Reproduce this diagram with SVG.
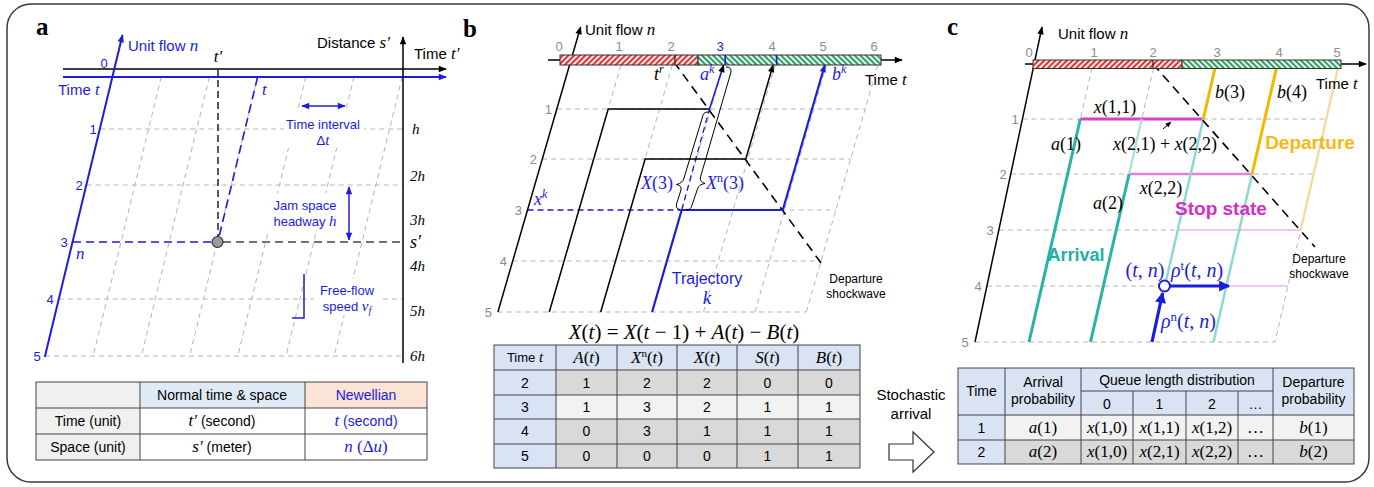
<svg xmlns="http://www.w3.org/2000/svg" width="1374" height="487" viewBox="0 0 1374 487">
<style>
.sans{font-family:"Liberation Sans",Arial,sans-serif}
.ser{font-family:"Liberation Serif","Times New Roman",serif}
.it{font-style:italic}
.bl{fill:#1c1cdc}
.gt{fill:#8c8c8c}
.grid{stroke:#b4b4b4;stroke-width:1;stroke-dasharray:5 4;fill:none}
.lbl{font-family:"Liberation Serif",serif;font-weight:bold;font-size:25px}
.tb{stroke:#444;stroke-width:1;fill:none}
.tr{stroke:#000;stroke-width:1.5;fill:none}
.trb{stroke:#1c1cdc;stroke-width:2.2;fill:none}
</style>
<defs>
<marker id="ak" viewBox="0 0 10 10" refX="9" refY="5" markerWidth="9" markerHeight="8" markerUnits="userSpaceOnUse" orient="auto-start-reverse"><path d="M0,1 L10,5 L0,9 z" fill="#000"/></marker>
<marker id="akb" viewBox="0 0 10 10" refX="9" refY="5" markerWidth="9" markerHeight="8" markerUnits="userSpaceOnUse" orient="auto-start-reverse"><path d="M0,1 L10,5 L0,9 z" fill="#1c1cdc"/></marker>
<marker id="akB" viewBox="0 0 10 10" refX="9" refY="5" markerWidth="13" markerHeight="11" markerUnits="userSpaceOnUse" orient="auto"><path d="M0,0 L10,5 L0,10 z" fill="#1c1cdc"/></marker>
<marker id="aks" viewBox="0 0 10 10" refX="9" refY="5" markerWidth="7" markerHeight="6" markerUnits="userSpaceOnUse" orient="auto"><path d="M0,1 L10,5 L0,9 z" fill="#000"/></marker>
<pattern id="hr" width="4" height="4" patternUnits="userSpaceOnUse" patternTransform="rotate(45)"><rect width="4" height="4" fill="#fff"/><line x1="1.2" y1="0" x2="1.2" y2="4" stroke="#dd2020" stroke-width="2"/></pattern>
<pattern id="hg" width="4" height="4" patternUnits="userSpaceOnUse" patternTransform="rotate(-45)"><rect width="4" height="4" fill="#fff"/><line x1="1.2" y1="0" x2="1.2" y2="4" stroke="#1e9456" stroke-width="2"/></pattern>
</defs>
<rect width="1374" height="487" fill="#fff"/>
<rect x="7" y="4" width="1362" height="478" rx="24" fill="#fff" stroke="#3a3a3a" stroke-width="1.5"/>

<!-- ================= PANEL A ================= -->
<g id="panel-a">
<text x="36" y="35" class="lbl">a</text>
<g id="a-grid">
<path class="grid" d="M161.2,77 L93.2,356 M209.4,77 L141.4,356 M257.6,77 L189.6,356 M305.8,77 L237.8,356 M354,77 L286,356 M402.2,77 L334.2,356"/>
<path class="grid" d="M100.3,129 H403 M86.7,185 H403 M58.9,299 H403 M45,356 H403"/>
</g>
<g id="a-label-backs" fill="#fff">
<rect x="284" y="112" width="80" height="36"/>
<rect x="268" y="193" width="75" height="37"/>
<rect x="314" y="279" width="66" height="36"/>
</g>
<g id="a-axes">
<line x1="63" y1="69" x2="446" y2="69" stroke="#000" stroke-width="1.5" marker-end="url(#ak)"/>
<line x1="63" y1="77" x2="446" y2="77" stroke="#1c1cdc" stroke-width="1.8" marker-end="url(#akb)"/>
<line x1="403" y1="363" x2="403" y2="37" stroke="#000" stroke-width="1.5" marker-end="url(#ak)"/>
<line x1="44.8" y1="357" x2="122.5" y2="35" stroke="#1c1cdc" stroke-width="2" marker-end="url(#akb)"/>
</g>
<g id="a-point">
<line x1="218" y1="69" x2="218" y2="237" stroke="#222" stroke-width="1.5" stroke-dasharray="7 4"/>
<line x1="257.6" y1="77" x2="219" y2="237" stroke="#1c1cdc" stroke-width="1.6" stroke-dasharray="9 5"/>
<line x1="73" y1="242" x2="212" y2="242" stroke="#1c1cdc" stroke-width="1.5" stroke-dasharray="8 5"/>
<line x1="223" y1="242" x2="403" y2="242" stroke="#444" stroke-width="1.5" stroke-dasharray="8 5"/>
<circle cx="217.5" cy="242" r="5.5" fill="#9a9a9a" stroke="#333" stroke-width="1.2"/>
</g>
<g id="a-annot" stroke="#1c1cdc" stroke-width="1.5" fill="none">
<line x1="302" y1="106" x2="345" y2="106" marker-start="url(#akb)" marker-end="url(#akb)"/>
<line x1="349" y1="187" x2="349" y2="240" marker-start="url(#akb)" marker-end="url(#akb)"/>
<polyline points="292,318 304,318 304,274"/>
</g>
<g id="a-texts" class="sans" font-size="15">
<text x="128" y="51" class="bl">Unit flow <tspan class="ser it" font-size="17">n</tspan></text>
<text x="317" y="48">Distance <tspan class="ser it" font-size="17">s′</tspan></text>
<text x="414" y="59">Time <tspan class="ser it" font-size="17">t′</tspan></text>
<text x="58" y="95" class="bl">Time <tspan class="ser it" font-size="17">t</tspan></text>
<text x="218" y="62" class="ser it" font-size="17" text-anchor="middle">t′</text>
<text x="262" y="95" class="ser it bl" font-size="17">t</text>
<text x="76" y="259" class="ser it bl" font-size="17">n</text>
<g class="bl" font-size="13" text-anchor="middle">
<text x="104" y="68">0</text>
<text x="93" y="134">1</text>
<text x="79" y="190">2</text>
<text x="64" y="247">3</text>
<text x="50" y="304">4</text>
<text x="37" y="361">5</text>
</g>
<g class="bl" font-size="13" text-anchor="middle">
<text x="323" y="129">Time interval</text>
<text x="323" y="145">Δ<tspan class="ser it" font-size="15">t</tspan></text>
<text x="305" y="210">Jam space</text>
<text x="305" y="226">headway <tspan class="ser it" font-size="15">h</tspan></text>
<text x="347" y="295">Free-flow</text>
<text x="347" y="311">speed <tspan class="ser it" font-size="15">v<tspan font-size="10" dy="3">f</tspan></tspan></text>
</g>
<g class="ser it" font-size="15">
<text x="412" y="134">h</text>
<text x="410" y="181">2h</text>
<text x="410" y="225">3h</text>
<text x="410" y="248" font-size="18">s′</text>
<text x="410" y="271">4h</text>
<text x="410" y="316">5h</text>
<text x="410" y="361">6h</text>
</g>
</g>
<g id="a-table">
<rect x="36" y="382" width="104" height="26" fill="#f0f0f0"/>
<rect x="140" y="382" width="165" height="26" fill="#deebf7"/>
<rect x="305" y="382" width="122" height="26" fill="#fbe4d5"/>
<rect x="36" y="408" width="104" height="52" fill="#f0f0f0"/>
<rect x="36" y="382" width="391" height="78" class="tb" stroke="#333" stroke-width="1.3"/>
<path class="tb" stroke="#333" d="M36,408 H427 M36,434 H427 M140,382 V460 M305,382 V460"/>
<g class="sans" font-size="14" text-anchor="middle">
<text x="222" y="400">Normal time &amp; space</text>
<text x="366" y="400" class="bl">Newellian</text>
<text x="88" y="426">Time (unit)</text>
<text x="88" y="452">Space (unit)</text>
<text x="222" y="426"><tspan class="ser it" font-size="17">t′</tspan> (second)</text>
<text x="366" y="426" class="bl"><tspan class="ser it" font-size="17">t</tspan> (second)</text>
<text x="222" y="452"><tspan class="ser it" font-size="17">s′</tspan> (meter)</text>
<text x="366" y="452" class="ser bl" font-size="17"><tspan class="it">n</tspan> (Δ<tspan class="it">u</tspan>)</text>
</g>
</g>
</g>

<!-- ================= PANEL B ================= -->
<g id="panel-b">
<text x="463" y="37" class="lbl">b</text>
<g id="b-grid">
<path class="grid" d="M620.95,65 L549.3,312 M672.35,65 L600.7,312 M723.75,65 L652.1,312 M775.15,65 L703.5,312 M826.55,65 L754.9,312 M877.95,65 L806.3,312"/>
<path class="grid" d="M556.8,109 H865.2 M542.3,159 H850.7 M512.7,261 H821.1 M497.9,312 H806.3 M681.7,210 H835.9"/>
</g>
<g id="b-connectors">
<line x1="527.5" y1="210" x2="681.7" y2="210" stroke="#1c1cdc" stroke-width="1.3" stroke-dasharray="6 4"/>
<line x1="681.7" y1="210" x2="709.5" y2="109" stroke="#1c1cdc" stroke-width="1.3" stroke-dasharray="6 4"/>
<line x1="674" y1="62" x2="824" y2="267" stroke="#000" stroke-width="1.6" stroke-dasharray="9 6"/>
<line x1="497.9" y1="312" x2="580.6" y2="27" class="tr" marker-end="url(#ak)"/>
<polyline points="549.3,312 608.2,109 709.5,109" class="tr"/>
<line x1="709.5" y1="109" x2="723.6" y2="65" stroke="#1c1cdc" stroke-width="1.6" marker-end="url(#ak)"/>
<polyline points="600.7,312 645.1,159 745.8,159 773.1,65" class="tr" marker-end="url(#ak)"/>
<polyline points="652.1,312 681.7,210 782.8,210 824.8,65" class="trb" marker-end="url(#akb)"/>
<path d="M708,112 Q703,112 702.5,117 L684,178 Q683,183 676.5,184.5 Q682,185.5 681,190 L676.5,204 Q675.5,209 680,209.5" fill="none" stroke="#000" stroke-width="1"/>
<path d="M726,67 Q731.5,67 731,72 L700.5,177 Q699.5,182 705,183.5 Q698.5,184.5 697.5,189 L692,205 Q691,210 686,210" fill="none" stroke="#000" stroke-width="1"/>
</g>
<g id="b-timebar">
<line x1="548" y1="60" x2="902" y2="60" stroke="#000" stroke-width="1.4" marker-end="url(#ak)"/>
<rect x="560" y="55" width="138" height="10" fill="url(#hr)" stroke="#333" stroke-width="1"/>
<rect x="698" y="55" width="183" height="10" fill="url(#hg)" stroke="#333" stroke-width="1"/>
<line x1="675" y1="55" x2="675" y2="65" stroke="#222" stroke-width="1.2"/>
<line x1="725.2" y1="55" x2="725.2" y2="65" stroke="#1c1cdc" stroke-width="1.6"/>
<line x1="776.6" y1="55" x2="776.6" y2="65" stroke="#1c1cdc" stroke-width="1.6"/>
</g>
<g id="b-texts" class="sans">
<text x="585" y="35" font-size="15">Unit flow <tspan class="ser it" font-size="17">n</tspan></text>
<text x="865" y="85" font-size="15">Time <tspan class="ser it" font-size="17">t</tspan></text>
<g font-size="13" class="gt" text-anchor="middle">
<text x="559" y="51">0</text><text x="619" y="51">1</text><text x="671" y="51">2</text>
<text x="720" y="51" class="bl">3</text><text x="772" y="51">4</text><text x="823" y="51">5</text><text x="874" y="51">6</text>
</g>
<g font-size="13" class="gt" text-anchor="end">
<text x="552" y="114">1</text><text x="537" y="164">2</text><text x="522" y="215">3</text><text x="507" y="266">4</text><text x="492" y="317">5</text>
</g>
<text x="654" y="80" class="ser it" font-size="18">t<tspan font-size="12" dy="-7">r</tspan></text>
<text x="700" y="80" class="ser it bl" font-size="18">a<tspan font-size="12" dy="-7">k</tspan></text>
<text x="832" y="80" class="ser it bl" font-size="18">b<tspan font-size="12" dy="-7">k</tspan></text>
<text x="534" y="205" class="ser it bl" font-size="18">x<tspan font-size="12" dy="-7">k</tspan></text>
<text x="673" y="189" class="ser bl" font-size="18" text-anchor="end"><tspan class="it">X</tspan>(3)</text>
<text x="706" y="189" class="ser bl" font-size="18"><tspan class="it">X</tspan><tspan font-size="12" dy="-7">n</tspan><tspan dy="7">(3)</tspan></text>
<text x="707" y="284" class="bl" font-size="16" text-anchor="middle">Trajectory</text>
<text x="707" y="304" class="ser it bl" font-size="19" text-anchor="middle">k</text>
<text x="856" y="283" font-size="12" text-anchor="middle">Departure</text>
<text x="856" y="298" font-size="12" text-anchor="middle">shockwave</text>
<text x="684" y="339" class="ser" font-size="21" text-anchor="middle"><tspan class="it">X</tspan>(<tspan class="it">t</tspan>) = <tspan class="it">X</tspan>(<tspan class="it">t</tspan> − 1) + <tspan class="it">A</tspan>(<tspan class="it">t</tspan>) − <tspan class="it">B</tspan>(<tspan class="it">t</tspan>)</text>
</g>
<g id="b-table">
<rect x="494" y="345" width="366" height="25" fill="#dae3f3"/>
<rect x="494" y="370" width="62" height="98" fill="#dae3f3"/>
<rect x="556" y="370" width="304" height="25" fill="#d9d9d9"/>
<rect x="556" y="395" width="304" height="24" fill="#f2f2f2"/>
<rect x="556" y="419" width="304" height="49" fill="#d9d9d9"/>
<rect x="494" y="345" width="366" height="123" class="tb" stroke="#666" stroke-width="1.3"/>
<path class="tb" stroke="#777" d="M494,370 H860 M494,395 H860 M494,419 H860 M494,444 H860 M556,345 V468 M617,345 V468 M677,345 V468 M737,345 V468 M798,345 V468"/>
<g font-size="14" text-anchor="middle" class="sans">
<text x="525" y="362" font-size="13">Time <tspan class="ser it" font-size="15">t</tspan></text>
</g>
<g class="ser" font-size="17" text-anchor="middle">
<text x="586.5" y="363"><tspan class="it">A</tspan>(<tspan class="it">t</tspan>)</text>
<text x="647" y="363"><tspan class="it">X</tspan><tspan font-size="11" dy="-6">n</tspan><tspan dy="6">(</tspan><tspan class="it">t</tspan>)</text>
<text x="707" y="363"><tspan class="it">X</tspan>(<tspan class="it">t</tspan>)</text>
<text x="767.5" y="363"><tspan class="it">S</tspan>(<tspan class="it">t</tspan>)</text>
<text x="829" y="363"><tspan class="it">B</tspan>(<tspan class="it">t</tspan>)</text>
</g>
<g class="sans" font-size="14" text-anchor="middle">
<text x="525" y="388">2</text><text x="586.5" y="388">1</text><text x="647" y="388">2</text><text x="707" y="388">2</text><text x="767.5" y="388">0</text><text x="829" y="388">0</text>
<text x="525" y="412">3</text><text x="586.5" y="412">1</text><text x="647" y="412">3</text><text x="707" y="412">2</text><text x="767.5" y="412">1</text><text x="829" y="412">1</text>
<text x="525" y="436">4</text><text x="586.5" y="436">0</text><text x="647" y="436">3</text><text x="707" y="436">1</text><text x="767.5" y="436">1</text><text x="829" y="436">1</text>
<text x="525" y="461">5</text><text x="586.5" y="461">0</text><text x="647" y="461">0</text><text x="707" y="461">0</text><text x="767.5" y="461">1</text><text x="829" y="461">1</text>
</g>
</g>
</g>

<g id="stochastic-arrow">
<text x="911" y="400" class="sans" font-size="15" text-anchor="middle">Stochastic</text>
<text x="911" y="419" class="sans" font-size="15" text-anchor="middle">arrival</text>
<polygon points="889,444 913,444 913,432 934,452 913,472 913,460 889,460" fill="#fff" stroke="#333" stroke-width="1.2"/>
</g>

<!-- ================= PANEL C ================= -->
<g id="panel-c">
<text x="947" y="35" class="lbl">c</text>
<g id="c-grid">
<path class="grid" d="M1092,68 L1029,342 M1153.5,68 L1090.5,342 M1215,68 L1152,342 M1276.5,68 L1213.5,342 M1338,68 L1275,342"/>
<path class="grid" d="M1022.5,119 H1326.3 M1010.8,174 H1313.6 M998.9,230 H1300.7 M987.1,286 H1287.9 M975,342 H1275"/>
</g>
<g id="c-connectors" fill="none">
<line x1="1177.7" y1="230" x2="1300.7" y2="230" stroke="#f3c6ef" stroke-width="2"/>
<line x1="1228" y1="286" x2="1287.9" y2="286" stroke="#f3c6ef" stroke-width="2"/>
<line x1="1129.1" y1="174" x2="1252.1" y2="174" stroke="#e37fdd" stroke-width="2.6"/>
<line x1="1080.3" y1="119" x2="1203.3" y2="119" stroke="#d83fcf" stroke-width="3"/>
<line x1="1029" y1="342" x2="1080.3" y2="119" stroke="#26b3ab" stroke-width="3"/>
<line x1="1090.5" y1="342" x2="1129.1" y2="174" stroke="#26b3ab" stroke-width="3"/>
<line x1="1129.1" y1="174" x2="1141.8" y2="119" stroke="#a6e0dc" stroke-width="2.2"/>
<line x1="1164.9" y1="286" x2="1203.3" y2="119" stroke="#8dd8d3" stroke-width="2.5"/>
<line x1="1213.5" y1="342" x2="1252.1" y2="174" stroke="#8dd8d3" stroke-width="2.5"/>
<line x1="1203.3" y1="119" x2="1215" y2="68" stroke="#f5b800" stroke-width="3"/>
<line x1="1252.1" y1="174" x2="1276.5" y2="68" stroke="#f5b800" stroke-width="3"/>
<line x1="1338" y1="68" x2="1300.7" y2="230" stroke="#f7d898" stroke-width="2.2"/>
<line x1="1153" y1="64" x2="1315" y2="247" stroke="#000" stroke-width="1.6" stroke-dasharray="9 6"/>
<line x1="975" y1="342" x2="1042" y2="27" stroke="#000" stroke-width="1.5" marker-end="url(#ak)"/>
<line x1="1152" y1="342" x2="1162.6" y2="293" stroke="#1c1cdc" stroke-width="3.2" marker-end="url(#akB)"/>
<line x1="1170" y1="286" x2="1229" y2="286" stroke="#1c1cdc" stroke-width="3.2" marker-end="url(#akB)"/>
<circle cx="1164.5" cy="286" r="5.5" fill="#fff" stroke="#1c1cdc" stroke-width="2"/>
<line x1="1163" y1="129" x2="1171" y2="122" stroke="#000" stroke-width="1" marker-end="url(#aks)"/>
</g>
<g id="c-timebar">
<line x1="1025" y1="64" x2="1366" y2="64" stroke="#000" stroke-width="1.4" marker-end="url(#ak)"/>
<rect x="1033" y="60" width="149" height="8.5" fill="url(#hr)" stroke="#333" stroke-width="1"/>
<rect x="1182" y="60" width="159" height="8.5" fill="url(#hg)" stroke="#333" stroke-width="1"/>
<line x1="1153" y1="60" x2="1153" y2="68.5" stroke="#222" stroke-width="1.2"/>
</g>
<g id="c-texts" class="sans">
<text x="1058" y="39" font-size="15">Unit flow <tspan class="ser it" font-size="17">n</tspan></text>
<text x="1316" y="89" font-size="15">Time <tspan class="ser it" font-size="17">t</tspan></text>
<g font-size="13" class="gt" text-anchor="middle">
<text x="1029" y="57">0</text><text x="1094" y="57">1</text><text x="1153" y="57">2</text><text x="1217" y="57">3</text><text x="1279" y="57">4</text><text x="1337" y="57">5</text>
<text x="1015" y="124">1</text><text x="1003" y="179">2</text><text x="990" y="235">3</text><text x="978" y="291">4</text><text x="965" y="347">5</text>
</g>
<g class="ser" font-size="18" text-anchor="middle">
<text x="1115" y="113"><tspan class="it">x</tspan>(1,1)</text>
<text x="1165" y="150"><tspan class="it">x</tspan>(2,1) + <tspan class="it">x</tspan>(2,2)</text>
<text x="1066" y="150"><tspan class="it">a</tspan>(1)</text>
<text x="1108" y="209"><tspan class="it">a</tspan>(2)</text>
<text x="1161" y="194"><tspan class="it">x</tspan>(2,2)</text>
<text x="1230" y="98"><tspan class="it">b</tspan>(3)</text>
<text x="1292" y="98"><tspan class="it">b</tspan>(4)</text>
</g>
<text x="1310" y="149" font-size="19" font-weight="bold" fill="#f5b912" text-anchor="middle">Departure</text>
<text x="1221" y="215" font-size="19" font-weight="bold" fill="#d42fc4" text-anchor="middle">Stop state</text>
<text x="1076" y="261" font-size="18" font-weight="bold" fill="#1fb0a8" text-anchor="middle">Arrival</text>
<g class="ser bl" font-size="20">
<text x="1145" y="277" text-anchor="middle">(<tspan class="it">t</tspan>, <tspan class="it">n</tspan>)</text>
<text x="1171" y="277"><tspan class="it">ρ</tspan><tspan font-size="13" dy="-7">t</tspan><tspan dy="7">(</tspan><tspan class="it">t</tspan>, <tspan class="it">n</tspan>)</text>
<text x="1161" y="328"><tspan class="it">ρ</tspan><tspan font-size="13" dy="-7">n</tspan><tspan dy="7">(</tspan><tspan class="it">t</tspan>, <tspan class="it">n</tspan>)</text>
</g>
<text x="1319" y="263" font-size="12" text-anchor="middle">Departure</text>
<text x="1319" y="278" font-size="12" text-anchor="middle">shockwave</text>
</g>
<g id="c-table">
<rect x="958" y="368" width="396" height="47" fill="#dae3f3"/>
<rect x="958" y="415" width="47" height="49" fill="#dae3f3"/>
<rect x="1005" y="415" width="349" height="25" fill="#f2f2f2"/>
<rect x="1005" y="440" width="349" height="24" fill="#d9d9d9"/>
<rect x="958" y="368" width="396" height="96" class="tb" stroke="#666" stroke-width="1.3"/>
<path class="tb" stroke="#777" d="M958,415 H1354 M958,440 H1354 M1081,391 H1273 M1005,368 V464 M1081,368 V464 M1273,368 V464 M1133,391 V464 M1186,391 V464 M1238,391 V464"/>
<g class="sans" font-size="14" text-anchor="middle">
<text x="981.5" y="396">Time</text>
<text x="1043" y="387">Arrival</text>
<text x="1043" y="404">probability</text>
<text x="1177" y="385">Queue length distribution</text>
<text x="1107" y="409">0</text><text x="1159.5" y="409">1</text><text x="1212" y="409">2</text><text x="1255.5" y="409">…</text>
<text x="1313.5" y="387">Departure</text>
<text x="1313.5" y="404">probability</text>
<text x="981.5" y="433">1</text>
<text x="981.5" y="457">2</text>
</g>
<g class="ser" font-size="17" text-anchor="middle">
<text x="1043" y="433"><tspan class="it">a</tspan>(1)</text>
<text x="1107" y="433"><tspan class="it">x</tspan>(1,0)</text>
<text x="1159.5" y="433"><tspan class="it">x</tspan>(1,1)</text>
<text x="1212" y="433"><tspan class="it">x</tspan>(1,2)</text>
<text x="1255.5" y="433">…</text>
<text x="1313.5" y="433"><tspan class="it">b</tspan>(1)</text>
<text x="1043" y="457"><tspan class="it">a</tspan>(2)</text>
<text x="1107" y="457"><tspan class="it">x</tspan>(1,0)</text>
<text x="1159.5" y="457"><tspan class="it">x</tspan>(2,1)</text>
<text x="1212" y="457"><tspan class="it">x</tspan>(2,2)</text>
<text x="1255.5" y="457">…</text>
<text x="1313.5" y="457"><tspan class="it">b</tspan>(2)</text>
</g>
</g>
</g>
</svg>
